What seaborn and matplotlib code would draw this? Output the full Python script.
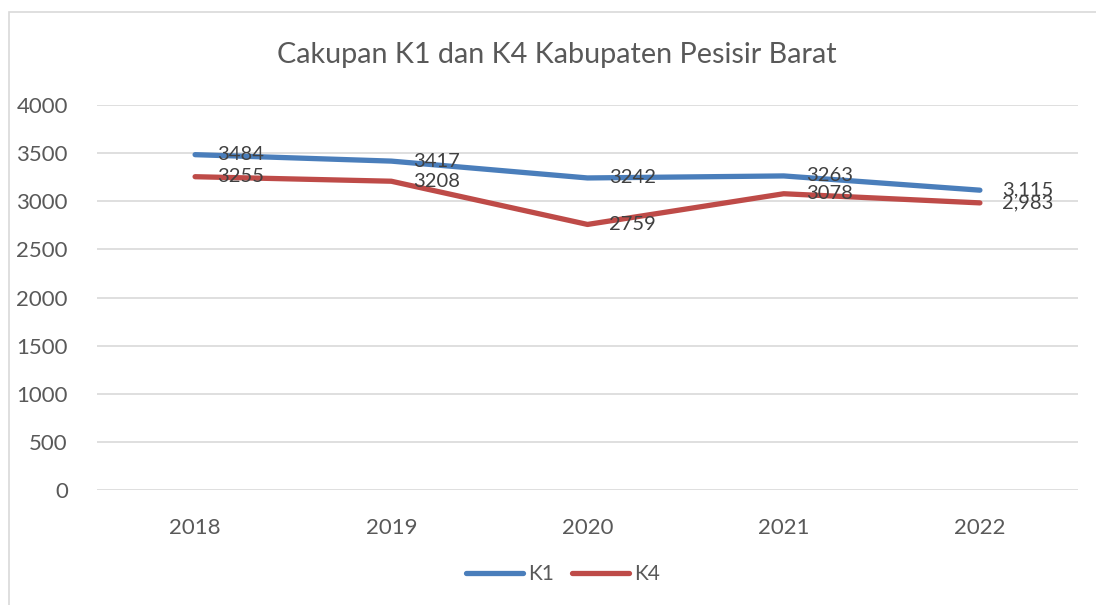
import numpy as np
import pandas as pd
import matplotlib
matplotlib.use("Agg")
import matplotlib.pyplot as plt
import seaborn as sns
from matplotlib.patches import Rectangle
from matplotlib.transforms import offset_copy

# Data dari grafik
tahun = ["2018", "2019", "2020", "2021", "2022"]
k1 = [3484, 3417, 3242, 3263, 3115]
k4 = [3255, 3208, 2759, 3078, 2983]
seri = ["K1", "K4"]
warna = {"K1": "#4A7EBB", "K4": "#BE4B48"}

df = pd.DataFrame({
    "Tahun": tahun * 2,
    "Nilai": k1 + k4,
    "Seri": ["K1"] * len(tahun) + ["K4"] * len(tahun),
})

sns.set_theme(style="white")
plt.rcParams["font.family"] = ["Lato", "DejaVu Sans"]

fig = plt.figure(figsize=(10.96, 6.05), dpi=100)
ax = fig.add_axes([97 / 1096, 1 - 490 / 605, (1078 - 97) / 1096, (490 - 105) / 605])

# Bingkai chart
fig.patches.append(Rectangle((9 / 1096, -0.1), 1.2, 1 - 12 / 605 + 0.1,
                             transform=fig.transFigure, fill=False,
                             edgecolor="#D9D9D9", linewidth=1.2))

sns.lineplot(data=df, x="Tahun", y="Nilai", hue="Seri", palette=warna,
             linewidth=3.8, ax=ax, legend=False, solid_capstyle="round")

ax.set_xlim(-0.5, len(tahun) - 0.5)
ax.set_ylim(0, 4000)
ax.set_yticks(np.arange(0, 4001, 500))
ax.yaxis.grid(True, color="#D9D9D9", linewidth=1.2)
ax.set_axisbelow(True)
for s in ax.spines.values():
    s.set_visible(False)
ax.tick_params(axis="both", length=0, colors="#595959", labelsize=16)
ax.tick_params(axis="y", pad=21)
ax.tick_params(axis="x", pad=20)
ax.set_xlabel("")
ax.set_ylabel("")

# Label data
geser = offset_copy(ax.transData, fig=fig, x=22, y=0, units="dots")
for nilai in (k1, k4):
    for i, v in enumerate(nilai):
        teks = f"{v:,}" if i == len(nilai) - 1 else str(v)
        ax.text(i, v, teks, transform=geser, ha="left", va="center",
                fontsize=14.5, color="#404040")

fig.text(557 / 1096, 1 - 55 / 605, "Cakupan K1 dan K4 Kabupaten Pesisir Barat",
         ha="center", va="center", fontsize=20.7, color="#595959")

handles = [plt.Line2D([], [], color=warna[s], linewidth=3.8, solid_capstyle="round")
           for s in seri]
fig.legend(handles, seri, loc="center", bbox_to_anchor=(563 / 1096, 1 - 574 / 605),
           ncol=2, frameon=False, fontsize=15, handlelength=2.7, columnspacing=0.9,
           handletextpad=0.25, labelcolor="#595959")

fig.savefig("out.png", dpi=100)
